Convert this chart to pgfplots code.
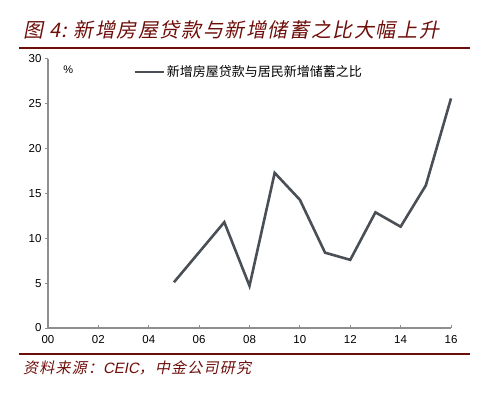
\documentclass[border=0pt]{standalone}
\usepackage{fontspec}
\setmainfont{Liberation Sans}
\newfontfamily\cjk{Noto Sans CJK SC}
\newfontfamily\cjkit[FakeSlant=0.2,LetterSpace=8]{Noto Sans CJK SC}
\newfontfamily\latit[FakeSlant=0.2]{Liberation Sans}
\usepackage{pgfplots}
\pgfplotsset{compat=1.18}
\definecolor{darkred}{HTML}{6E0E0A}
\definecolor{linegray}{HTML}{4A4F55}
\definecolor{axgray}{HTML}{8E8E8E}
\begin{document}
\begin{tikzpicture}
\useasboundingbox (0bp,0bp) rectangle (497bp,397bp);
\node[anchor=west,inner sep=0pt,text=darkred,font=\fontsize{20bp}{22bp}\selectfont] at (23bp,367bp) {\cjkit 图 4:\hspace{6bp}新增房屋贷款与新增储蓄之比大幅上升};
\draw[darkred,line width=2bp] (19bp,349bp) -- (470bp,349bp);
\draw[darkred,line width=2bp] (19bp,43bp) -- (470bp,43bp);
\node[anchor=west,inner sep=0pt,text=darkred,font=\fontsize{15bp}{17bp}\selectfont] at (23bp,29bp) {\cjkit 资料来源：\latit CEIC\cjkit ，中金公司研究};
\begin{axis}[
  at={(48bp,69bp)}, anchor=south west,
  scale only axis, width=403bp, height=269bp,
  xmin=0, xmax=16, ymin=0, ymax=30,
  axis lines=left,
  axis line style={axgray,line width=1.1bp,-},
  xtick={0,2,...,16},
  xticklabels={00,02,04,06,08,10,12,14,16},
  ytick={0,5,...,30},
  tick align=inside,
  major tick length=3bp,
  tick style={axgray,line width=1bp},
  y tick style={xshift=-3bp},
  /pgf/number format/assume math mode=true,
  ticklabel style={font=\fontsize{11.5bp}{13bp}\selectfont,text=black},
  xticklabel style={yshift=-4bp},
  yticklabel style={xshift=-3bp},
  clip=false,
  legend style={at={(axis description cs:0.211,0.952)},anchor=west,draw=none,fill=none,inner sep=0pt,font=\fontsize{13bp}{14bp}\selectfont},
  legend cell align=left,
  legend image code/.code={\draw[#1] (0bp,0bp) -- (29bp,0bp);},
]
\addplot[linegray,line width=2.6bp] coordinates {
(5,5.1) (6,8.45) (7,11.8) (8,4.7) (9,17.3) (10,14.3) (11,8.4) (12,7.6) (13,12.9) (14,11.3) (15,15.9) (16,25.6)
};
\addlegendentry{\cjk 新增房屋贷款与居民新增储蓄之比}
\node[font=\fontsize{11bp}{12bp}\selectfont,inner sep=0pt] at (axis description cs:0.05,0.96) {\%};
\end{axis}
\end{tikzpicture}
\end{document}
